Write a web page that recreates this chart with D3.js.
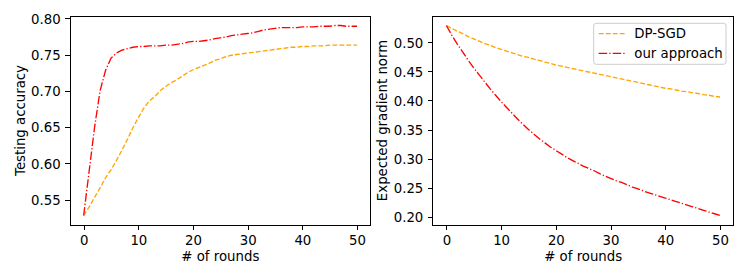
<!DOCTYPE html>
<html>
<head>
<meta charset="utf-8">
<script src="https://cdn.jsdelivr.net/npm/d3@7"></script>
<style>
  body { margin: 0; background: #fff; }
  svg { display: block; font-family: "DejaVu Sans", sans-serif; }
</style>
</head>
<body>
<div id="chart-container"></div>
<script>
const rounds = [
  0, 1, 2, 3, 4, 5, 6, 7, 8, 9, 10, 11, 12, 13, 14, 15, 16, 17, 18, 19, 20,
  21, 22, 23, 24, 25, 26, 27, 28, 29, 30, 31, 32, 33, 34, 35, 36, 37, 38, 39,
  40, 41, 42, 43, 44, 45, 46, 47, 48, 49, 50,
];

// testing accuracy per round
const accDpSgd = [
  0.528, 0.540, 0.553, 0.566, 0.580, 0.591, 0.604, 0.618, 0.633, 0.649, 0.663,
  0.676, 0.686, 0.692, 0.700, 0.706, 0.711, 0.715, 0.720, 0.725, 0.729,
  0.732, 0.735, 0.738, 0.742, 0.744, 0.747, 0.749, 0.750, 0.751, 0.752,
  0.753, 0.754, 0.755, 0.756, 0.757, 0.758, 0.759, 0.760, 0.760, 0.761,
  0.761, 0.762, 0.762, 0.762, 0.763, 0.763, 0.763, 0.763, 0.763, 0.763,
];
const accOurs = [
  0.528, 0.589, 0.650, 0.700, 0.728, 0.745, 0.752, 0.756, 0.758, 0.760, 0.761,
  0.761, 0.762, 0.762, 0.762, 0.763, 0.763, 0.764, 0.765, 0.767, 0.768,
  0.768, 0.769, 0.770, 0.772, 0.773, 0.774, 0.776, 0.777, 0.778, 0.779,
  0.780, 0.782, 0.784, 0.785, 0.786, 0.787, 0.787, 0.787, 0.787, 0.788,
  0.788, 0.788, 0.789, 0.789, 0.789, 0.790, 0.790, 0.789, 0.789, 0.789,
];

// expected gradient norm per round
const normDpSgd = [
  0.529, 0.524, 0.519, 0.515, 0.510, 0.506, 0.502, 0.498, 0.495, 0.491, 0.488,
  0.485, 0.482, 0.479, 0.476, 0.474, 0.471, 0.469, 0.466, 0.464, 0.461,
  0.459, 0.457, 0.455, 0.453, 0.451, 0.449, 0.447, 0.445, 0.443, 0.441,
  0.439, 0.437, 0.435, 0.433, 0.431, 0.429, 0.427, 0.425, 0.423, 0.421,
  0.420, 0.418, 0.416, 0.415, 0.413, 0.412, 0.410, 0.409, 0.407, 0.406,
];
const normOurs = [
  0.529, 0.512, 0.497, 0.483, 0.469, 0.456, 0.444, 0.432, 0.420, 0.409, 0.398,
  0.388, 0.378, 0.368, 0.359, 0.350, 0.342, 0.334, 0.327, 0.320, 0.314,
  0.308, 0.302, 0.297, 0.292, 0.287, 0.283, 0.279, 0.274, 0.270, 0.266,
  0.262, 0.259, 0.255, 0.251, 0.248, 0.244, 0.241, 0.238, 0.235, 0.232,
  0.229, 0.226, 0.223, 0.220, 0.217, 0.214, 0.211, 0.208, 0.205, 0.202,
];

const seriesNames = ["DP-SGD", "our approach"];
const xTicks = [0, 10, 20, 30, 40, 50];
const accTicks = [0.55, 0.6, 0.65, 0.7, 0.75, 0.8];
const normTicks = [0.2, 0.25, 0.3, 0.35, 0.4, 0.45, 0.5];

const width = 747;
const height = 280;
const fontSize = 13.3;

const styles = [
  { color: "orange", dash: "4.9,2.1" },
  { color: "red", dash: "8.5,2.1,1.3,2.1" },
];

const svg = d3
  .select("#chart-container")
  .append("svg")
  .attr("width", width)
  .attr("height", height)
  .style("font-size", fontSize + "px");

function pad(extent) {
  const r = extent[1] - extent[0];
  return [extent[0] - 0.05 * r, extent[1] + 0.05 * r];
}

function drawPanel(box, series, yTicks, yLabel, yLabelX, showLegend) {
  const xScale = d3
    .scaleLinear()
    .domain([-2.5, 52.5])
    .range([box.left, box.right]);

  const allValues = series.flat();
  const yScale = d3
    .scaleLinear()
    .domain(pad(d3.extent(allValues)))
    .range([box.bottom, box.top]);

  const g = svg.append("g");

  const line = d3
    .line()
    .x((d, i) => xScale(rounds[i]))
    .y((d) => yScale(d));

  series.forEach((values, k) => {
    g.append("path")
      .datum(values)
      .attr("d", line)
      .attr("fill", "none")
      .attr("stroke", styles[k].color)
      .attr("stroke-width", 1.33)
      .attr("stroke-dasharray", styles[k].dash);
  });

  // frame
  g.append("rect")
    .attr("x", box.left)
    .attr("y", box.top)
    .attr("width", box.right - box.left)
    .attr("height", box.bottom - box.top)
    .attr("fill", "none")
    .attr("stroke", "#000")
    .attr("stroke-width", 1)
    .attr("shape-rendering", "crispEdges");

  const xAxis = d3
    .axisBottom(xScale)
    .tickValues(xTicks)
    .tickSize(4.7)
    .tickPadding(4.7)
    .tickFormat(d3.format("d"));

  const xAxisGroup = g
    .append("g")
    .attr("transform", `translate(0,${box.bottom})`)
    .call(xAxis);

  const yAxis = d3
    .axisLeft(yScale)
    .tickValues(yTicks)
    .tickSize(4.7)
    .tickPadding(4.7)
    .tickFormat(d3.format(".2f"));

  const yAxisGroup = g
    .append("g")
    .attr("transform", `translate(${box.left},0)`)
    .call(yAxis);

  [xAxisGroup, yAxisGroup].forEach((ag) => {
    ag.select(".domain").remove();
    ag.selectAll("line")
      .attr("stroke", "#000")
      .attr("stroke-width", 1)
      .attr("shape-rendering", "crispEdges");
    ag.selectAll("text")
      .attr("fill", "#000")
      .style("font-family", "DejaVu Sans")
      .style("font-size", fontSize + "px");
  });
  xAxisGroup.selectAll("text").attr("dy", "0.76em");
  yAxisGroup.selectAll("text").attr("dy", "0.36em");

  g.append("text")
    .attr("x", (box.left + box.right) / 2)
    .attr("y", 261)
    .attr("text-anchor", "middle")
    .text("# of rounds");

  g.append("text")
    .attr("transform", `translate(${yLabelX},${(box.top + box.bottom) / 2}) rotate(-90)`)
    .attr("text-anchor", "middle")
    .attr("dy", "0.36em")
    .text(yLabel);

  if (showLegend) {
    const lx = box.right - 7.7;
    const ly = box.top + 7.3;
    const lw = 132.3;
    const lh = 41;
    const legend = g.append("g");
    legend
      .append("rect")
      .attr("x", lx - lw)
      .attr("y", ly)
      .attr("width", lw)
      .attr("height", lh)
      .attr("rx", 2.5)
      .attr("fill", "#fff")
      .attr("fill-opacity", 0.8)
      .attr("stroke", "#ccc")
      .attr("stroke-width", 1);

    seriesNames.forEach((name, k) => {
      const yy = ly + 10.4 + k * 19.6;
      legend
        .append("line")
        .attr("x1", lx - lw + 5)
        .attr("x2", lx - lw + 31.6)
        .attr("y1", yy)
        .attr("y2", yy)
        .attr("stroke", styles[k].color)
        .attr("stroke-width", 1.33)
        .attr("stroke-dasharray", styles[k].dash);
      legend
        .append("text")
        .attr("x", lx - lw + 40.6)
        .attr("y", yy)
        .attr("dy", "0.36em")
        .text(name);
    });
  }
}

drawPanel(
  { left: 70, right: 370.7, top: 16, bottom: 225 },
  [accDpSgd, accOurs],
  accTicks,
  "Testing accuracy",
  20,
  false,
);

drawPanel(
  { left: 432.7, right: 733.7, top: 16, bottom: 225 },
  [normDpSgd, normOurs],
  normTicks,
  "Expected gradient norm",
  382,
  true,
);
</script>
</body>
</html>
